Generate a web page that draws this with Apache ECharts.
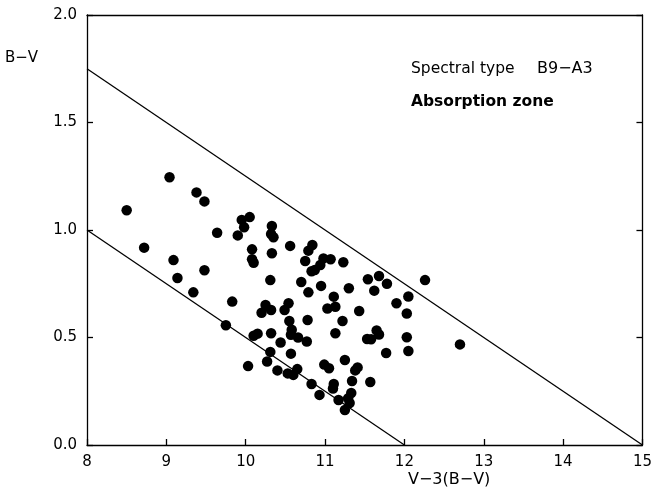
<!DOCTYPE html>
<html><head><meta charset="utf-8">
<script src="https://cdn.jsdelivr.net/npm/echarts@6/dist/echarts.min.js"></script>
<style>html,body{margin:0;padding:0;background:#fff}#c{width:655px;height:499px}</style>
</head><body><div id="c"></div>
<script>
const xTicks = [8, 9, 10, 11, 12, 13, 14, 15];
const yTicks = ['0.0', '0.5', '1.0', '1.5', '2.0'];
const starsX = [8.50,9.04,9.38,9.48,9.95,10.05,9.98,9.64,9.90,10.33,10.32,10.35,8.72,10.08,10.08,10.10,10.33,9.09,9.48,9.14,
10.31,9.34,9.83,10.25,10.32,10.20,9.75,10.10,10.15,10.32,10.56,10.84,10.79,10.75,10.98,11.07,10.94,10.87,10.83,11.23,
10.70,11.54,11.68,11.78,11.62,10.95,11.30,10.79,11.90,11.11,10.54,10.49,11.03,11.13,11.43,10.55,10.78,11.22,10.58,10.57,
10.66,10.44,10.77,11.13,11.53,11.58,11.65,11.68,10.31,10.57,11.77,10.03,10.27,10.40,10.53,10.60,10.65,10.99,11.05,11.25,
11.41,11.38,11.34,11.57,10.83,10.93,11.11,11.10,11.17,11.33,11.29,11.31,11.25,12.26,12.05,12.03,12.03,12.05,12.70];
const starsY = [1.092,1.245,1.175,1.133,1.047,1.060,1.013,0.987,0.975,1.019,0.981,0.966,0.918,0.910,0.864,0.848,0.892,0.860,0.813,0.777,
0.767,0.710,0.667,0.651,0.628,0.615,0.557,0.508,0.518,0.520,0.926,0.930,0.904,0.856,0.868,0.864,0.837,0.814,0.808,0.850,
0.758,0.771,0.786,0.750,0.718,0.740,0.729,0.710,0.659,0.690,0.659,0.628,0.635,0.643,0.623,0.577,0.581,0.577,0.536,0.513,
0.500,0.477,0.481,0.520,0.493,0.492,0.533,0.514,0.433,0.425,0.428,0.367,0.388,0.347,0.333,0.326,0.353,0.374,0.357,0.395,
0.361,0.347,0.298,0.293,0.284,0.233,0.284,0.263,0.209,0.242,0.217,0.195,0.163,0.767,0.691,0.612,0.501,0.437,0.468];
const upperLineX = [8, 15], upperLineY = [1.75, 0];
const lowerLineX = [8, 12], lowerLineY = [1.0, 0];
const xName = 'V\u22123(B\u2212V)';
const yName = 'B\u2212V';
const note1a = 'Spectral type', note1b = 'B9\u2212A3', note2 = 'Absorption zone';

const pts = starsX.map((x, i) => [x, starsY[i]]);
const font = 'DejaVu Sans';
const chart = echarts.init(document.getElementById('c'), null, {renderer: 'canvas'});
const axisLine = {show: true, onZero: false, lineStyle: {color: '#000', width: 1.3}};
const tick = {show: true, inside: true, length: 6, lineStyle: {color: '#000', width: 1.3}};
chart.setOption({
  animation: false,
  grid: {left: 87, right: 8, top: 15, bottom: 54, show: false},
  xAxis: [{
    type: 'value', min: 8, max: 15, interval: 1,
    axisLine, axisTick: tick,
    axisLabel: {color: '#000', fontFamily: font, fontSize: 15, margin: 10},
    splitLine: {show: false}
  }, {
    type: 'value', position: 'top', min: 8, max: 15, interval: 1,
    axisLine, axisTick: {show: false}, axisLabel: {show: false}, splitLine: {show: false}
  }],
  yAxis: [{
    type: 'value', min: 0, max: 2, interval: 0.5,
    axisLine, axisTick: tick,
    axisLabel: {color: '#000', fontFamily: font, fontSize: 15, margin: 10,
      formatter: v => yTicks[Math.round(v / 0.5)]},
    splitLine: {show: false}
  }, {
    type: 'value', position: 'right', min: 0, max: 2, interval: 0.5,
    axisLine, axisTick: tick,
    axisLabel: {show: false}, splitLine: {show: false}
  }],
  graphic: [
    {type: 'text', left: 5, top: 51, style: {text: yName, font: '15px "DejaVu Sans"', fill: '#000'}},
    {type: 'text', left: 408, top: 472, style: {text: xName, font: '16px "DejaVu Sans"', fill: '#000'}},
    {type: 'text', left: 411, top: 61, style: {text: note1a, font: '15.5px "DejaVu Sans"', fill: '#000'}},
    {type: 'text', left: 537, top: 61, style: {text: note1b, font: '16px "DejaVu Sans"', fill: '#000'}},
    {type: 'text', left: 411, top: 94, style: {text: note2, font: 'bold 15.5px "DejaVu Sans"', fill: '#000'}}
  ],
  series: [
    {type: 'line', data: upperLineX.map((x, i) => [x, upperLineY[i]]), symbol: 'none',
      lineStyle: {color: '#000', width: 1.3}, silent: true},
    {type: 'line', data: lowerLineX.map((x, i) => [x, lowerLineY[i]]), symbol: 'none',
      lineStyle: {color: '#000', width: 1.3}, silent: true},
    {type: 'scatter', data: pts, symbol: 'circle', symbolSize: 10.5,
      itemStyle: {color: '#000', opacity: 1}}
  ]
});
</script></body></html>
